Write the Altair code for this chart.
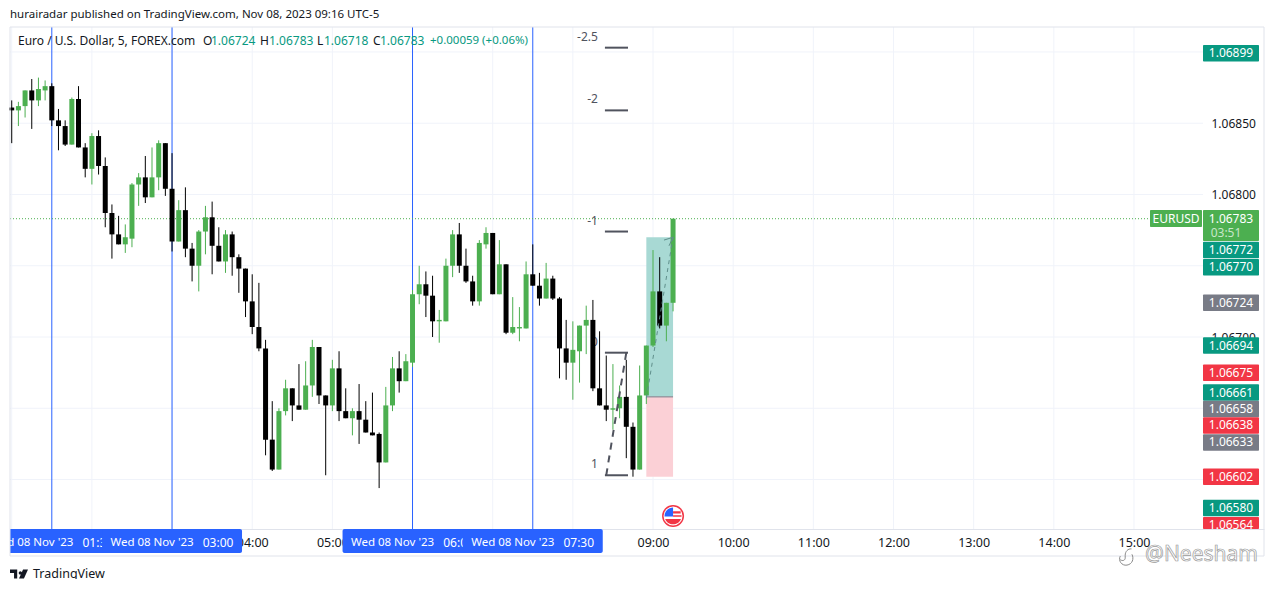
import altair as alt
import pandas as pd

FONT = "Noto Sans"
INK = "#131722"
UP = "#4caf50"
DOWN = "#000000"
TEAL = "#089981"
RED = "#f23645"
GRAY = "#787b86"
BLUE = "#2962ff"
GRID = "#f0f3fa"
FRAME = "#e0e3eb"

# candle values, in 0.00001 above 1.06000; first bar is 01:00, one bar each 5 minutes
open_pts = [861,859,862,873,866,873,876,852,848,835,867,833,818,841,820,787,772,765,769,807,
            812,798,812,836,804,767,789,762,750,774,784,764,753,772,756,748,725,707,692,628,
            607,648,664,652,649,666,693,659,652,678,648,643,648,642,633,632,612,652,678,669,
            682,730,737,729,711,711,750,772,750,739,725,765,773,730,751,703,706,706,744,736,
            727,741,727,692,682,690,708,712,664,652,649,650,658,637,607,659,694,732,708,724]
close_pts = [859,862,873,866,874,876,852,848,835,867,833,818,841,820,787,772,765,770,807,812,
             798,812,836,804,767,789,762,750,774,784,764,753,772,756,748,725,707,692,628,607,
             648,664,652,649,666,693,659,652,678,648,643,648,642,633,631,612,652,678,669,683,
             730,737,729,711,712,750,772,750,739,725,766,773,730,751,703,707,707,744,736,727,
             741,727,692,682,691,708,712,664,652,649,650,658,637,607,659,694,732,708,724,783]
high_pts = [866,865,873,881,882,880,878,860,852,868,876,836,843,845,826,793,785,779,808,815,
            827,833,838,836,829,796,805,766,775,792,795,777,775,774,758,748,744,738,698,655,
            650,670,664,681,683,698,693,659,684,690,664,650,667,655,661,633,665,686,690,688,
            733,750,746,743,719,755,775,780,762,743,768,777,773,768,751,728,721,753,765,745,
            752,743,728,712,711,708,722,726,704,687,681,666,684,640,680,694,761,756,724,783]
low_pts = [836,848,854,846,862,866,848,831,834,835,833,812,807,814,777,755,765,759,763,792,
           794,798,803,799,760,767,756,739,732,758,744,753,745,743,731,714,702,690,617,606,
           607,645,641,649,649,658,653,603,648,641,643,631,625,633,631,594,612,648,661,669,
           679,723,714,700,696,711,742,745,738,722,722,762,730,730,702,702,697,706,736,722,
           727,726,671,670,656,668,688,662,652,641,635,643,615,602,607,653,693,706,697,718]

hour_ticks = list(range(1, 16))
price_ticks = [1.069, 1.0685, 1.068, 1.0675, 1.067, 1.0665, 1.066]
marker_hours = [1.5, 3.0, 6.0, 7.5]
marker_dates = ["Wed 08 Nov '23"] * 4
marker_times = ["01:30", "03:00", "06:00", "07:30"]

fib_labels = ["-2.5", "-2", "-1", "0", "1"]
fib_prices = [1.06903, 1.06859, 1.06774, 1.06689, 1.06603]

tag_texts = ["1.06899","1.06772","1.06770","1.06724","1.06694","1.06675","1.06661",
             "1.06658","1.06638","1.06633","1.06602","1.06580","1.06564"]
tag_places = [1.06899,1.06761,1.06749,1.06724,1.06694,1.06675,1.06661,
              1.066495,1.06638,1.06626,1.06602,1.06580,1.06568]
tag_colors = [TEAL,TEAL,TEAL,GRAY,TEAL,RED,TEAL,GRAY,RED,GRAY,RED,TEAL,RED]

LAST = 1.06783
ENTRY, TARGET, STOP = 1.06658, 1.06770, 1.06602

xs = alt.Scale(domain=[0.9785, 16.622], nice=False, zero=False, padding=0)
ys = alt.Scale(domain=[1.065653, 1.069175], nice=False, zero=False)
x_axis = alt.Axis(
    values=hour_ticks, labelExpr="(datum.value<10?'0':'')+datum.value+':00'",
    grid=False, ticks=False, labelPadding=7, labelFont=FONT, labelFontSize=12.5,
    labelColor=INK, domainColor=FRAME, labelOverlap=False, labelFlush=False, title=None)
y_axis = alt.Axis(
    orient="right", offset=-61, values=price_ticks, format=".5f", grid=False, ticks=False,
    labelPadding=8, labelFont=FONT, labelFontSize=12, labelColor=INK, domain=False,
    labelOverlap=False, labelFlush=False, title=None)
X = lambda f: alt.X(f, type="quantitative", scale=xs, axis=x_axis)
Y = lambda f: alt.Y(f, type="quantitative", scale=ys, axis=y_axis)
one = pd.DataFrame({"a": [0]})


def label(txt, px, py, color=INK, size=12, align="left", font=FONT, **kw):
    return alt.Chart(one).mark_text(align=align, baseline="middle", font=font, fontSize=size,
                                    color=color, **kw).encode(
        x=alt.value(px - 10), y=alt.value(py - 27), text=alt.value(txt))


layers = []

# grids
layers.append(alt.Chart(pd.DataFrame({"h": hour_ticks})).mark_rule(color=GRID, strokeWidth=1).encode(x=X("h")))
layers.append(alt.Chart(pd.DataFrame({"p": price_ticks})).mark_rule(color=GRID, strokeWidth=1).encode(
    x=alt.value(0), x2=alt.value(1193), y=Y("p")))

# blue session lines
layers.append(alt.Chart(pd.DataFrame({"h": marker_hours})).mark_rule(color=BLUE, strokeWidth=1).encode(
    x=X("h")))

# current price line
layers.append(alt.Chart(pd.DataFrame({"p": [LAST]})).mark_rule(color=UP, strokeWidth=1, strokeDash=[1, 2]).encode(
    x=alt.value(0), x2=alt.value(1140), y=Y("p")))

# long position box
box = pd.DataFrame({"a": [8.9167, 8.9167], "b": [9.25, 9.25], "p1": [ENTRY, ENTRY],
                    "p2": [TARGET, STOP], "c": ["#a8d9d4", "#fbd0d6"]})
layers.append(alt.Chart(box).mark_rect().encode(
    x=X("a"), x2="b", y=Y("p1"), y2="p2", color=alt.Color("c:N", scale=None)))
layers.append(alt.Chart(box.head(1)).mark_rule(color="#787b86", strokeWidth=1).encode(
    x=X("a"), x2="b", y=Y("p1")))

# fib level captions go under the candles
fib = pd.DataFrame({"t": fib_labels, "p": fib_prices, "a": [8.40] * 5, "b": [8.688] * 5})
layers.append(alt.Chart(fib).mark_text(align="right", baseline="middle", dx=-7, dy=-11, font=FONT,
                                       fontSize=12, color="#50535e").encode(x=X("a"), y=Y("p"), text="t:N"))

# candles
candles = pd.DataFrame({
    "h": [1 + k / 12 for k in range(100)],
    "o": [1.06 + v / 1e5 for v in open_pts],
    "c": [1.06 + v / 1e5 for v in close_pts],
    "hi": [1.06 + v / 1e5 for v in high_pts],
    "lo": [1.06 + v / 1e5 for v in low_pts],
})
candles["col"] = [UP if c >= o else DOWN for o, c in zip(candles.o, candles.c)]
layers.append(alt.Chart(candles).mark_rule(strokeWidth=1).encode(
    x=X("h"), y=Y("lo"), y2="hi", color=alt.Color("col:N", scale=None)))
layers.append(alt.Chart(candles).mark_bar(size=5).encode(
    x=X("h"), y=Y("o"), y2="c", color=alt.Color("col:N", scale=None)))

# fib level lines and the drawn paths
layers.append(alt.Chart(fib).mark_rule(color="#50535e", strokeWidth=2).encode(x=X("a"), x2="b", y=Y("p")))
layers.append(alt.Chart(pd.DataFrame({"a": [8.4167], "b": [8.6667], "p": [1.06603], "q": [1.06689]}))
              .mark_rule(color="#50535e", strokeWidth=2, strokeDash=[7, 6]).encode(x=X("a"), x2="b", y=Y("p"), y2="q"))
layers.append(alt.Chart(pd.DataFrame({"a": [8.9167], "b": [9.25], "p": [1.06657], "q": [1.06770]}))
              .mark_rule(color="#5f8f8b", strokeWidth=1, strokeDash=[4, 4]).encode(x=X("a"), x2="b", y=Y("p"), y2="q"))
layers.append(alt.Chart(pd.DataFrame({"a": [9.137, 9.2], "b": [9.25, 9.25], "p": [1.06768, 1.06764], "q": [1.0677, 1.0677]}))
              .mark_rule(color="#5f8f8b", strokeWidth=1).encode(x=X("a"), x2="b", y=Y("p"), y2="q"))

# right scale tags
tags = pd.DataFrame({"t": tag_texts, "p": tag_places, "col": tag_colors})
tags["p1"] = tags.p + 0.0000579
tags["p2"] = (tags.p - 0.0000579).clip(lower=1.065653)
layers.append(alt.Chart(tags).mark_rect(clip=True, cornerRadius=1).encode(
    x=alt.value(1193), x2=alt.value(1249), y=Y("p1"), y2="p2", color=alt.Color("col:N", scale=None)))
layers.append(alt.Chart(tags).mark_text(clip=True, align="center", baseline="middle", font=FONT,
                                        fontSize=12, color="#ffffff").encode(
    x=alt.value(1221), y=Y("p"), text="t:N"))

# last price tag
layers.append(alt.Chart(one).mark_rect(color=UP, cornerRadius=1).encode(
    x=alt.value(1193), x2=alt.value(1249), y=alt.value(183), y2=alt.value(214)))
layers.append(alt.Chart(one).mark_rect(color=UP, cornerRadius=1).encode(
    x=alt.value(1140), x2=alt.value(1192), y=alt.value(183), y2=alt.value(200)))
layers.append(label("EURUSD", 1176, 219, color="#ffffff", align="center"))
layers.append(label("1.06783", 1231, 219, color="#ffffff", align="center"))
layers.append(label("03:51", 1226, 233, color="#c8e6c9", align="center"))

# blue time tags, each one overlapping the previous
for h, d, t in zip(marker_hours, marker_dates, marker_times):
    row = pd.DataFrame({"a": [h - 0.873], "b": [h + 0.873], "h": [h], "d": [d], "t": [t]})
    layers.append(alt.Chart(row).mark_rect(color=BLUE, cornerRadius=2).encode(
        x=X("a"), x2="b", y=alt.value(502), y2=alt.value(526)))
    layers.append(alt.Chart(row).mark_text(font=FONT, fontSize=11.5, color="#ffffff", dx=-20, baseline="middle").encode(
        x=X("h"), y=alt.value(515.5), text="d:N"))
    layers.append(alt.Chart(row).mark_text(font=FONT, fontSize=12, color="#ffffff", dx=46, baseline="middle").encode(
        x=X("h"), y=alt.value(515.5), text="t:N"))

# hide what runs off the left of the pane
layers.append(alt.Chart(one).mark_rect(color="#ffffff").encode(
    x=alt.value(-10), x2=alt.value(0), y=alt.value(495), y2=alt.value(535)))

# frame
layers.append(alt.Chart(one).mark_rule(color=FRAME).encode(x=alt.value(0), x2=alt.value(1254), y=alt.value(0)))
layers.append(alt.Chart(one).mark_rule(color=FRAME).encode(x=alt.value(0), x2=alt.value(1254), y=alt.value(529)))
layers.append(alt.Chart(one).mark_rule(color=FRAME).encode(x=alt.value(0), y=alt.value(0), y2=alt.value(529)))
layers.append(alt.Chart(one).mark_rule(color=FRAME).encode(x=alt.value(1254), y=alt.value(0), y2=alt.value(529)))

# event flag
ev = pd.DataFrame({"h": [9.25]})


def flag(path, size, color):
    return alt.Chart(ev).mark_point(shape=path, filled=True, size=size, color=color, opacity=1).encode(
        x=X("h"), y=alt.value(489))


layers.append(flag("circle", 484, "#f23645"))
layers.append(flag("circle", 361, "#ffffff"))
layers.append(flag("M-1 0.05A1 1 0 0 1 0 -1V0.05Z", 289, "#2962ff"))
layers.append(flag("M0 -0.55H0.9V-0.3H0ZM0 -0.1H1V0.1H0ZM-0.93 0.35H0.93A1 1 0 0 1 -0.93 0.35Z", 289, "#f23645"))

# header, legend
layers.append(label("hurairadar published on TradingView.com, Nov 08, 2023 09:16 UTC-5", 10, 15, size=11.5))
layers.append(label("Euro / U.S. Dollar, 5, FOREX.com", 18, 41, size=12))
for letter, lx, value, vx in [("O", 203, "1.06724", 211), ("H", 260, "1.06783", 269),
                              ("L", 317, "1.06718", 324), ("C", 373, "1.06783", 380)]:
    layers.append(label(letter, lx, 41, size=12))
    layers.append(label(value, vx, 41, color=TEAL, size=12))
layers.append(label("+0.00059 (+0.06%)", 430, 41, color=TEAL, size=11.5))

# footer
layers.append(alt.Chart(one).mark_point(
    shape="M-1 -0.5H-0.2V0.5H-0.55V-0.1H-1ZM0.15 -0.3A0.18 0.18 0 1 1 0.149 -0.3ZM0.45 -0.5H1L0.55 0.5H0Z",
    filled=True, size=324, color=INK, opacity=1).encode(x=alt.value(9), y=alt.value(547)))
layers.append(label("TradingView", 33, 574, size=12.5))
layers.append(label("@Neesham", 1145, 555, color="#ffffff", size=21, stroke="#9a9a9a", strokeWidth=0.7))
layers.append(alt.Chart(one).mark_point(
    shape="M0.5 -0.9C0.1 -0.95 -0.2 -0.6 -0.2 -0.2V0.1C-0.2 0.35 -0.45 0.5 -0.75 0.3M-0.75 -0.1C-1 0.4 -0.6 1 0 0.9C0.6 0.8 0.8 0.2 0.55 -0.3",
    filled=False, size=324, color="#8a8a8a", strokeWidth=1, opacity=1).encode(x=alt.value(1117), y=alt.value(530)))

chart = alt.layer(*layers).properties(
    width=1254, height=502,
    padding={"left": 2, "top": 19, "right": 1, "bottom": 50},
    autosize=alt.AutoSizeParams(type="none"),
    background="#ffffff",
).configure_view(stroke=None)

chart.save("out.html", embed_options={"renderer": "svg", "actions": False})
